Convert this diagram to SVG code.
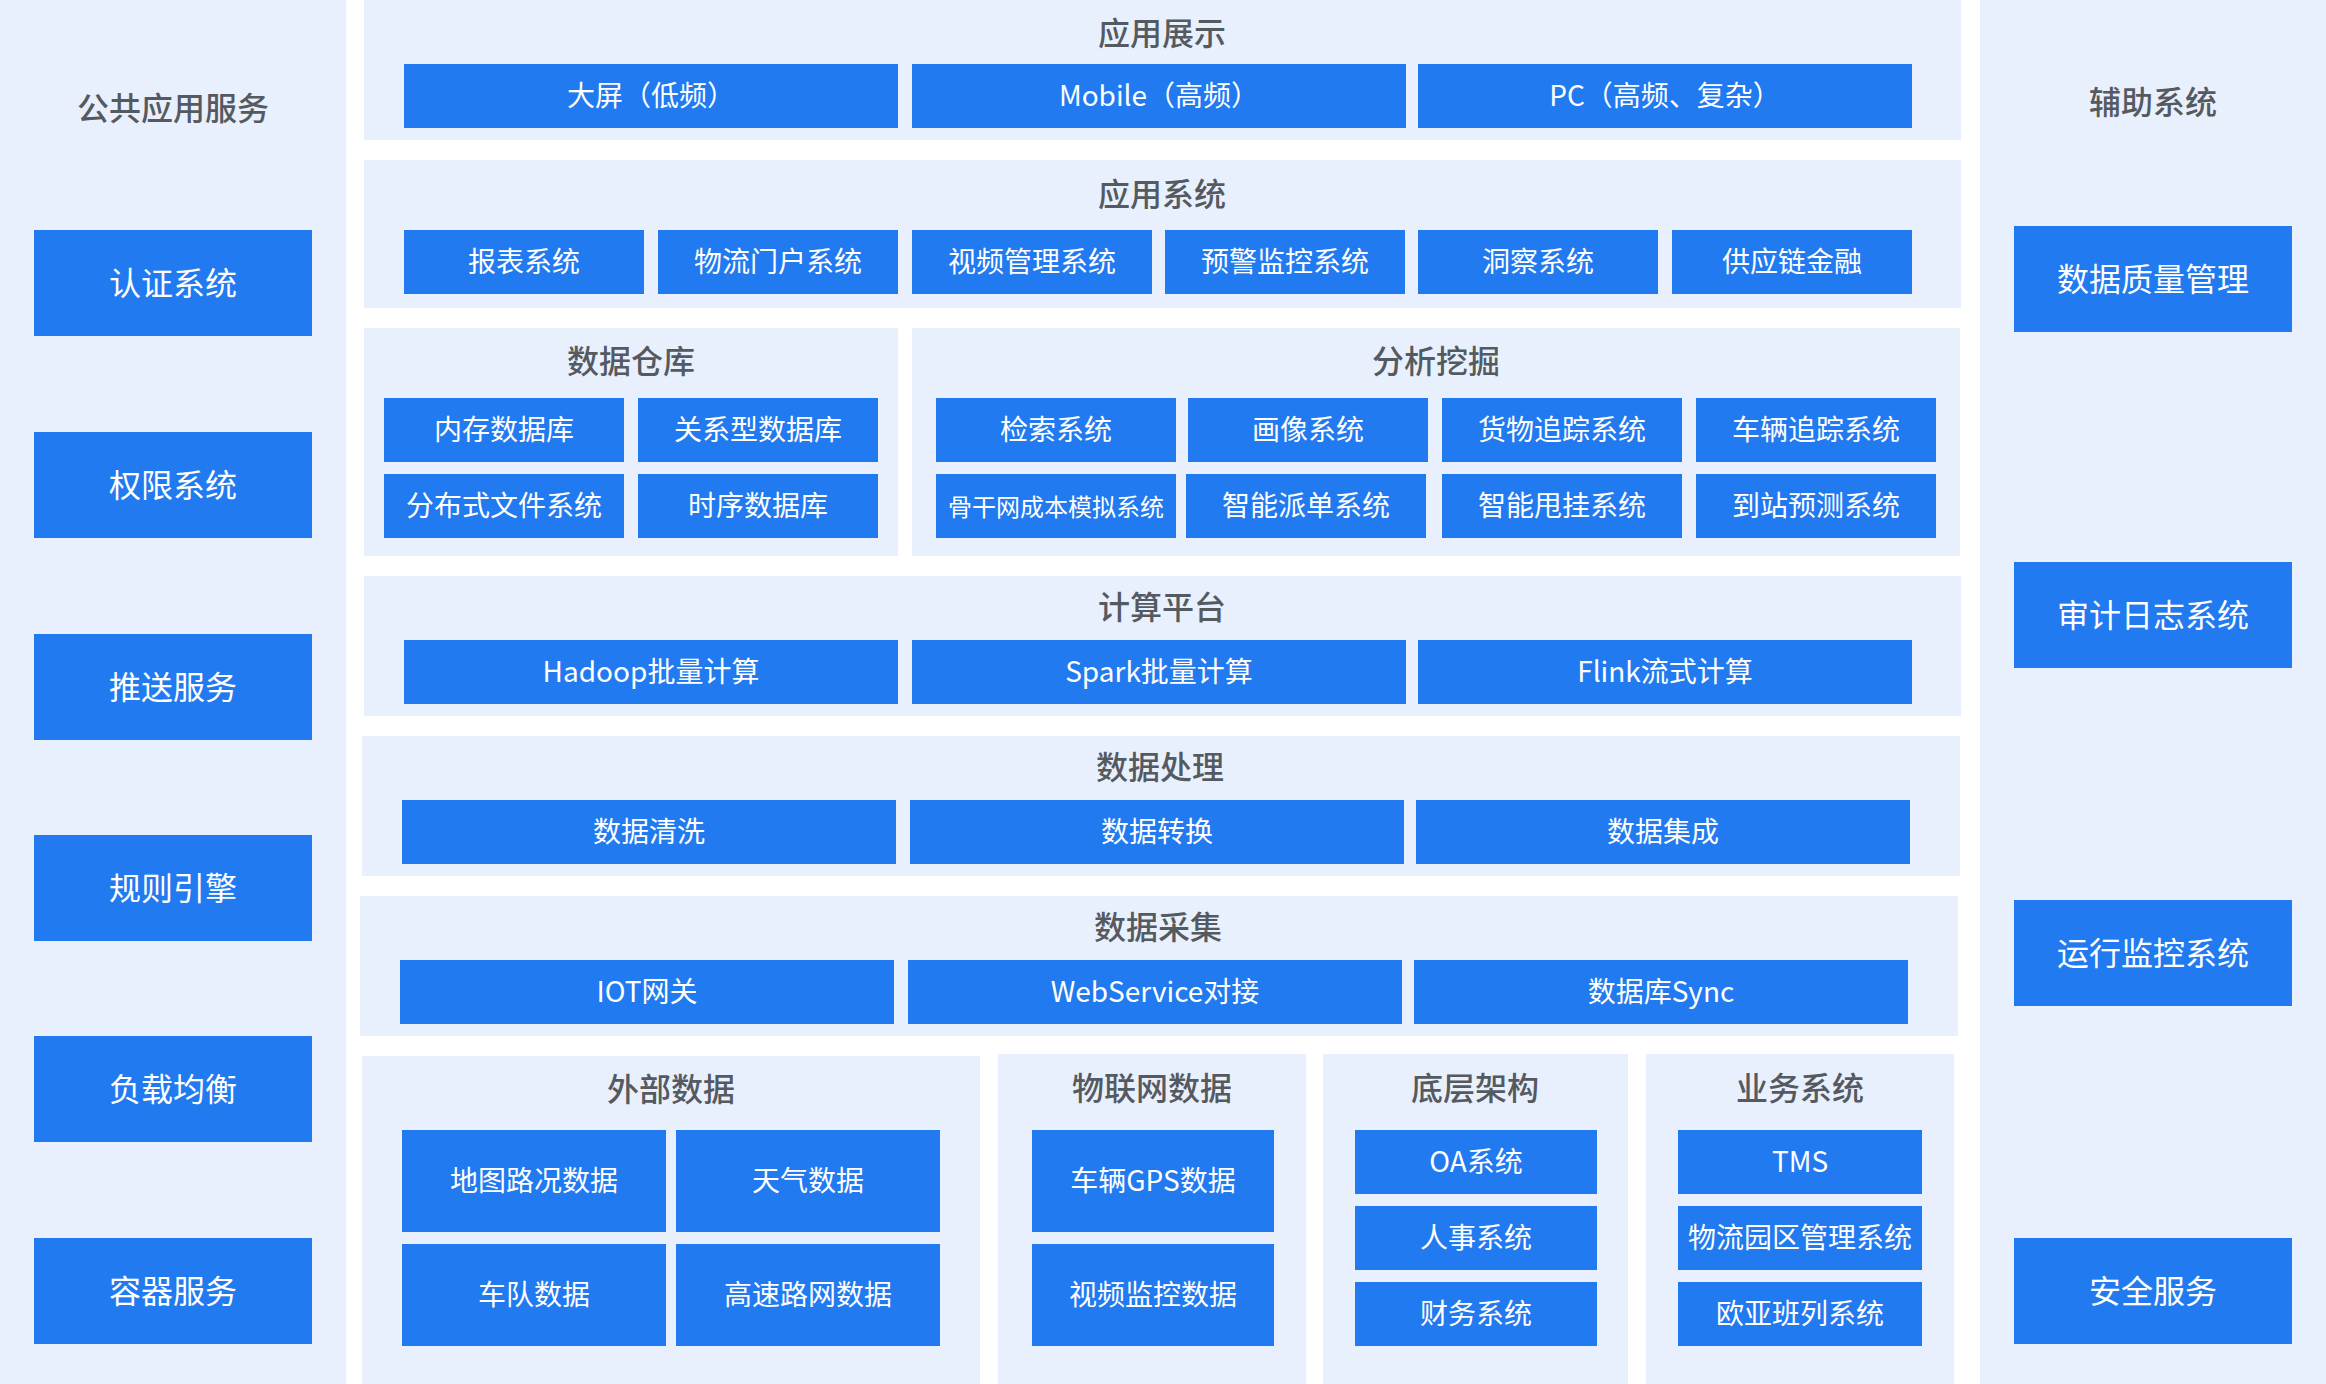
<svg xmlns="http://www.w3.org/2000/svg" width="2326" height="1384" viewBox="0 0 2326 1384">
<style>
.bg{fill:#FFFFFF}
.panel{fill:#E9F0FD}
.box{fill:#217AF0}
text{font-family:"Noto Sans CJK SC","Noto Sans",sans-serif;text-anchor:middle;dominant-baseline:central}
.t{font-size:32px;fill:#555A60;font-weight:500}
.bt{font-size:28px;fill:#FFFFFF}
.bl{font-size:32px;fill:#FFFFFF}
.bs{font-size:24px;fill:#FFFFFF}
</style>
<rect class="bg" x="0" y="0" width="2326" height="1384"/>

<g id="public-services">
  <rect class="panel" x="0" y="0" width="346" height="1384"/>
  <text class="t" x="173" y="106">公共应用服务</text>
  <g id="auth"><rect class="box" x="34" y="230" width="278" height="106"/><text class="bl" x="173" y="281">认证系统</text></g>
  <g id="perm"><rect class="box" x="34" y="432" width="278" height="106"/><text class="bl" x="173" y="483">权限系统</text></g>
  <g id="push"><rect class="box" x="34" y="634" width="278" height="106"/><text class="bl" x="173" y="685">推送服务</text></g>
  <g id="rules"><rect class="box" x="34" y="835" width="278" height="106"/><text class="bl" x="173" y="886">规则引擎</text></g>
  <g id="lb"><rect class="box" x="34" y="1036" width="278" height="106"/><text class="bl" x="173" y="1087">负载均衡</text></g>
  <g id="container"><rect class="box" x="34" y="1238" width="278" height="106"/><text class="bl" x="173" y="1289">容器服务</text></g>
</g>

<g id="aux-systems">
  <rect class="panel" x="1980" y="0" width="346" height="1384"/>
  <text class="t" x="2153" y="100">辅助系统</text>
  <g id="dq"><rect class="box" x="2014" y="226" width="278" height="106"/><text class="bl" x="2153" y="277">数据质量管理</text></g>
  <g id="audit"><rect class="box" x="2014" y="562" width="278" height="106"/><text class="bl" x="2153" y="613">审计日志系统</text></g>
  <g id="monitor"><rect class="box" x="2014" y="900" width="278" height="106"/><text class="bl" x="2153" y="951">运行监控系统</text></g>
  <g id="security"><rect class="box" x="2014" y="1238" width="278" height="106"/><text class="bl" x="2153" y="1289">安全服务</text></g>
</g>

<g id="app-display">
  <rect class="panel" x="364" y="0" width="1597" height="140"/>
  <text class="t" x="1162" y="31">应用展示</text>
  <g id="bigscreen"><rect class="box" x="404" y="64" width="494" height="64"/><text class="bt" x="651" y="94">大屏（低频）</text></g>
  <g id="mobile"><rect class="box" x="912" y="64" width="494" height="64"/><text class="bt" x="1159" y="94">Mobile（高频）</text></g>
  <g id="pc"><rect class="box" x="1418" y="64" width="494" height="64"/><text class="bt" x="1665" y="94">PC（高频、复杂）</text></g>
</g>

<g id="app-systems">
  <rect class="panel" x="364" y="160" width="1597" height="148"/>
  <text class="t" x="1162" y="192">应用系统</text>
  <g id="report"><rect class="box" x="404" y="230" width="240" height="64"/><text class="bt" x="524" y="260">报表系统</text></g>
  <g id="portal"><rect class="box" x="658" y="230" width="240" height="64"/><text class="bt" x="778" y="260">物流门户系统</text></g>
  <g id="video"><rect class="box" x="912" y="230" width="240" height="64"/><text class="bt" x="1032" y="260">视频管理系统</text></g>
  <g id="alert"><rect class="box" x="1165" y="230" width="240" height="64"/><text class="bt" x="1285" y="260">预警监控系统</text></g>
  <g id="insight"><rect class="box" x="1418" y="230" width="240" height="64"/><text class="bt" x="1538" y="260">洞察系统</text></g>
  <g id="finance"><rect class="box" x="1672" y="230" width="240" height="64"/><text class="bt" x="1792" y="260">供应链金融</text></g>
</g>

<g id="data-warehouse">
  <rect class="panel" x="364" y="328" width="534" height="228"/>
  <text class="t" x="631" y="359">数据仓库</text>
  <g id="memdb"><rect class="box" x="384" y="398" width="240" height="64"/><text class="bt" x="504" y="428">内存数据库</text></g>
  <g id="reldb"><rect class="box" x="638" y="398" width="240" height="64"/><text class="bt" x="758" y="428">关系型数据库</text></g>
  <g id="dfs"><rect class="box" x="384" y="474" width="240" height="64"/><text class="bt" x="504" y="504">分布式文件系统</text></g>
  <g id="tsdb"><rect class="box" x="638" y="474" width="240" height="64"/><text class="bt" x="758" y="504">时序数据库</text></g>
</g>

<g id="analysis">
  <rect class="panel" x="912" y="328" width="1048" height="228"/>
  <text class="t" x="1436" y="359">分析挖掘</text>
  <g id="search"><rect class="box" x="936" y="398" width="240" height="64"/><text class="bt" x="1056" y="428">检索系统</text></g>
  <g id="profile"><rect class="box" x="1188" y="398" width="240" height="64"/><text class="bt" x="1308" y="428">画像系统</text></g>
  <g id="cargo"><rect class="box" x="1442" y="398" width="240" height="64"/><text class="bt" x="1562" y="428">货物追踪系统</text></g>
  <g id="vehicle"><rect class="box" x="1696" y="398" width="240" height="64"/><text class="bt" x="1816" y="428">车辆追踪系统</text></g>
  <g id="backbone"><rect class="box" x="936" y="474" width="240" height="64"/><text class="bs" x="1056" y="505">骨干网成本模拟系统</text></g>
  <g id="dispatch"><rect class="box" x="1186" y="474" width="240" height="64"/><text class="bt" x="1306" y="504">智能派单系统</text></g>
  <g id="trailer"><rect class="box" x="1442" y="474" width="240" height="64"/><text class="bt" x="1562" y="504">智能甩挂系统</text></g>
  <g id="eta"><rect class="box" x="1696" y="474" width="240" height="64"/><text class="bt" x="1816" y="504">到站预测系统</text></g>
</g>

<g id="compute">
  <rect class="panel" x="364" y="576" width="1597" height="140"/>
  <text class="t" x="1162" y="605">计算平台</text>
  <g id="hadoop"><rect class="box" x="404" y="640" width="494" height="64"/><text class="bt" x="651" y="670">Hadoop批量计算</text></g>
  <g id="spark"><rect class="box" x="912" y="640" width="494" height="64"/><text class="bt" x="1159" y="670">Spark批量计算</text></g>
  <g id="flink"><rect class="box" x="1418" y="640" width="494" height="64"/><text class="bt" x="1665" y="670">Flink流式计算</text></g>
</g>

<g id="processing">
  <rect class="panel" x="362" y="736" width="1598" height="140"/>
  <text class="t" x="1160" y="765">数据处理</text>
  <g id="clean"><rect class="box" x="402" y="800" width="494" height="64"/><text class="bt" x="649" y="830">数据清洗</text></g>
  <g id="transform"><rect class="box" x="910" y="800" width="494" height="64"/><text class="bt" x="1157" y="830">数据转换</text></g>
  <g id="integrate"><rect class="box" x="1416" y="800" width="494" height="64"/><text class="bt" x="1663" y="830">数据集成</text></g>
</g>

<g id="collection">
  <rect class="panel" x="360" y="896" width="1598" height="140"/>
  <text class="t" x="1158" y="925">数据采集</text>
  <g id="iot"><rect class="box" x="400" y="960" width="494" height="64"/><text class="bt" x="647" y="990">IOT网关</text></g>
  <g id="ws"><rect class="box" x="908" y="960" width="494" height="64"/><text class="bt" x="1155" y="990">WebService对接</text></g>
  <g id="dbsync"><rect class="box" x="1414" y="960" width="494" height="64"/><text class="bt" x="1661" y="990">数据库Sync</text></g>
</g>

<g id="external">
  <rect class="panel" x="362" y="1056" width="618" height="328"/>
  <text class="t" x="671" y="1087">外部数据</text>
  <g id="traffic"><rect class="box" x="402" y="1130" width="264" height="102"/><text class="bt" x="534" y="1179">地图路况数据</text></g>
  <g id="weather"><rect class="box" x="676" y="1130" width="264" height="102"/><text class="bt" x="808" y="1179">天气数据</text></g>
  <g id="fleet"><rect class="box" x="402" y="1244" width="264" height="102"/><text class="bt" x="534" y="1293">车队数据</text></g>
  <g id="highway"><rect class="box" x="676" y="1244" width="264" height="102"/><text class="bt" x="808" y="1293">高速路网数据</text></g>
</g>

<g id="iot-data">
  <rect class="panel" x="998" y="1054" width="308" height="330"/>
  <text class="t" x="1152" y="1086">物联网数据</text>
  <g id="gps"><rect class="box" x="1032" y="1130" width="242" height="102"/><text class="bt" x="1153" y="1179">车辆GPS数据</text></g>
  <g id="videodata"><rect class="box" x="1032" y="1244" width="242" height="102"/><text class="bt" x="1153" y="1293">视频监控数据</text></g>
</g>

<g id="infra">
  <rect class="panel" x="1323" y="1054" width="305" height="330"/>
  <text class="t" x="1475" y="1086">底层架构</text>
  <g id="oa"><rect class="box" x="1355" y="1130" width="242" height="64"/><text class="bt" x="1476" y="1160">OA系统</text></g>
  <g id="hr"><rect class="box" x="1355" y="1206" width="242" height="64"/><text class="bt" x="1476" y="1236">人事系统</text></g>
  <g id="fin"><rect class="box" x="1355" y="1282" width="242" height="64"/><text class="bt" x="1476" y="1312">财务系统</text></g>
</g>

<g id="business">
  <rect class="panel" x="1646" y="1054" width="308" height="330"/>
  <text class="t" x="1800" y="1086">业务系统</text>
  <g id="tms"><rect class="box" x="1678" y="1130" width="244" height="64"/><text class="bt" x="1800" y="1160">TMS</text></g>
  <g id="park"><rect class="box" x="1678" y="1206" width="244" height="64"/><text class="bt" x="1800" y="1236">物流园区管理系统</text></g>
  <g id="euasia"><rect class="box" x="1678" y="1282" width="244" height="64"/><text class="bt" x="1800" y="1312">欧亚班列系统</text></g>
</g>

<g id="connectors"></g>
</svg>
